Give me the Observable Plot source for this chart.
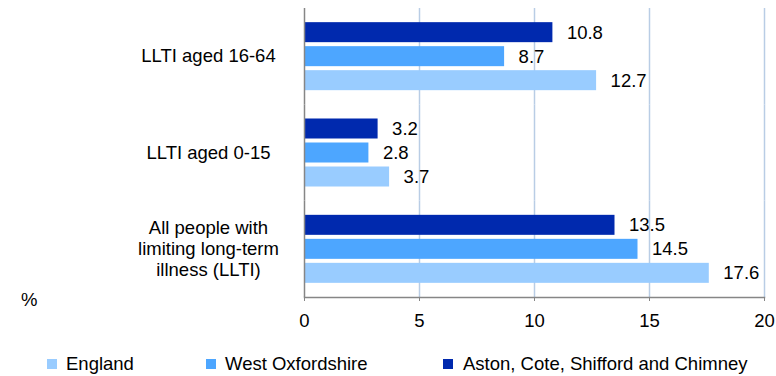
<!DOCTYPE html>
<html><head><meta charset="utf-8">
<script src="https://cdn.jsdelivr.net/npm/d3@7"></script>
<script src="https://cdn.jsdelivr.net/npm/@observablehq/plot@0.6"></script>
<style>
body{margin:0;background:#fff;font-family:"Liberation Sans",Arial,sans-serif;}
#wrap{position:relative;width:776px;height:376px;overflow:hidden;}
#chart svg{display:block;}
#pct{position:absolute;left:21px;top:291px;font-size:18.5px;line-height:18px;color:#000;}
.lg{position:absolute;top:355px;height:18px;font-size:18.5px;line-height:18px;color:#000;white-space:nowrap;}
.sw{position:absolute;top:359px;width:10px;height:10px;}
</style></head><body>
<div id="wrap"><div id="chart"></div><div id="pct">%</div><div id="legend"></div></div>
<script>
const categories = ["LLTI aged 16-64", "LLTI aged 0-15", "All people with limiting long-term illness (LLTI)"];
const categoryLabels = ["LLTI aged 16-64", "LLTI aged 0-15", "All people with\nlimiting long-term\nillness (LLTI)"];
const series = ["Aston, Cote, Shifford and Chimney", "West Oxfordshire", "England"];
const astonValues = [10.8, 3.2, 13.5];
const westOxValues = [8.7, 2.8, 14.5];
const englandValues = [12.7, 3.7, 17.6];
const xTicks = [0, 5, 10, 15, 20];
const seriesColors = ["#0029AE", "#4DA6FF", "#99CCFF"];
const legendOrder = ["England", "West Oxfordshire", "Aston, Cote, Shifford and Chimney"];

const seriesValues = [astonValues, westOxValues, englandValues];
const data = [];
categories.forEach((c, i) => series.forEach((s, j) => data.push({category: c, series: s, value: seriesValues[j][i]})));
const labelData = categories.map((c, i) => ({category: c, label: categoryLabels[i]}));
const FONT = '"Liberation Sans", Arial, sans-serif';

const plot = Plot.plot({
  width: 776, height: 340,
  marginLeft: 304, marginRight: 12, marginTop: 8, marginBottom: 43,
  style: {fontFamily: FONT, fontSize: "18.5px", color: "#000", background: "transparent"},
  x: {domain: [0, 20], axis: null},
  y: {domain: series, paddingInner: 1/6, paddingOuter: 0.59, axis: null, round: false},
  fy: {domain: categories, padding: 0, axis: null, round: false},
  color: {domain: series, range: seriesColors},
  marks: [
    Plot.gridX(xTicks.filter(t => t > 0), {stroke: "#B9CDE5", strokeOpacity: 1, strokeWidth: 1.5}),
    Plot.barX(data, {x: "value", y: "series", fy: "category", fill: "series"}),
    Plot.text(data, {x: "value", y: "series", fy: "category", text: d => d.value.toFixed(1), dx: 14, textAnchor: "start", fontSize: 18.5, fill: "#000"}),
    Plot.text(labelData, {fy: "category", text: "label", frameAnchor: "left", dx: -96, dy: -1, textAnchor: "middle", lineHeight: 1.13, fontSize: 18.5, fill: "#000"}),
    Plot.ruleX([0], {stroke: "#868686", strokeWidth: 1.5}),
    Plot.frame({anchor: "bottom", facetAnchor: "bottom", stroke: "#868686", strokeWidth: 1.5}),
    Plot.axisX({ticks: xTicks, tickSize: 4, tickPadding: 12, stroke: "#868686", fill: "#000", fontSize: 18.5, label: null, facetAnchor: "bottom"})
  ]
});
document.getElementById("chart").appendChild(plot);

const legendPos = [{sw: 47, tx: 66}, {sw: 206, tx: 225}, {sw: 443, tx: 463}];
const lg = document.getElementById("legend");
legendOrder.forEach((name, i) => {
  const sq = document.createElement("div");
  sq.className = "sw";
  sq.style.left = legendPos[i].sw + "px";
  sq.style.background = seriesColors[series.indexOf(name)];
  lg.appendChild(sq);
  const t = document.createElement("div");
  t.className = "lg";
  t.style.left = legendPos[i].tx + "px";
  t.textContent = name;
  lg.appendChild(t);
});
</script>
</body></html>
